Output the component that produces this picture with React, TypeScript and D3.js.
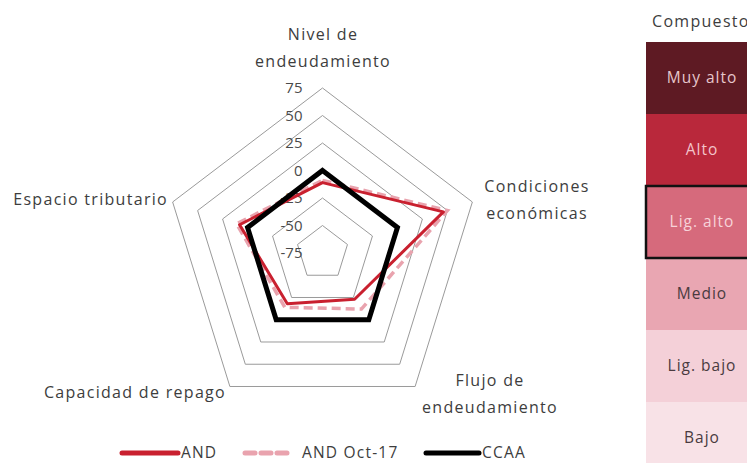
import * as React from "react";
import { scaleLinear, line, curveLinearClosed, range } from "d3";

const axes = [
  ["Nivel de", "endeudamiento"],
  ["Condiciones", "económicas"],
  ["Flujo de", "endeudamiento"],
  ["Capacidad de repago"],
  ["Espacio tributario"],
];
const ticks = [-75, -50, -25, 0, 25, 50, 75];
const andValues = [-11, 46, -23, -18, 8];
const andOct17Values = [-9, 50, -12, -14, 11];
const ccaaValues = [0, 0, 0, 0, 0];
const levels = ["Muy alto", "Alto", "Lig. alto", "Medio", "Lig. bajo", "Bajo"];
const levelColors = ["#5e1a23", "#b9283b", "#d66a7c", "#e9a6b2", "#f4d0d8", "#f8e2e7"];
const levelText = ["#e6c6cb", "#f3c3c9", "#f7d3d9", "#4a3b3f", "#4a3b3f", "#4a3b3f"];
const selectedLevel = "Lig. alto";

const cx = 322.5;
const cy = 253;
const kx = 0.955;
const font = "'Open Sans', Lato, sans-serif";

const rScale = scaleLinear().domain([-75, 75]).range([0, 165]);

const pt = (v: number, i: number): [number, number] => {
  const a = (i * 2 * Math.PI) / 5;
  const r = rScale(v);
  return [cx + r * Math.sin(a) * kx, cy - r * Math.cos(a)];
};

const poly = line<number>()
  .x((d, i) => pt(d, i)[0])
  .y((d, i) => pt(d, i)[1])
  .curve(curveLinearClosed);

const labelPos = [
  { x: 323, y: 40, anchor: "middle" },
  { x: 537, y: 192, anchor: "middle" },
  { x: 490, y: 386, anchor: "middle" },
  { x: 226, y: 398, anchor: "end" },
  { x: 168, y: 205, anchor: "end" },
];

export default function App() {
  const rowY = scaleLinear().domain([0, levels.length]).range([42, 42 + 72 * levels.length]);
  return (
    <svg width={747} height={463} style={{ position: "absolute", left: 0, top: 0, background: "#fff" }}>
      {ticks.slice(1).map((t) => (
        <path key={t} d={poly(range(5).map(() => t)) ?? ""} fill="none" stroke="#9a9a9a" strokeWidth={1} />
      ))}
      {ticks.map((t) => (
        <text key={t} x={cx - 20} y={cy - rScale(t)} dy="0.35em" textAnchor="end"
          fontFamily={font} fontSize={15} fill="#4a4a4a">{t}</text>
      ))}
      <path d={poly(andOct17Values) ?? ""} fill="none" stroke="#e9a3ae" strokeWidth={3.5} strokeDasharray="9,5" />
      <path d={poly(andValues) ?? ""} fill="none" stroke="#c9202f" strokeWidth={3} strokeLinejoin="round" />
      <path d={poly(ccaaValues) ?? ""} fill="none" stroke="#000" strokeWidth={5} />
      {axes.map((lines, i) => (
        <text key={i} fontFamily={font} fontSize={16} fill="#3d3d3d" letterSpacing={1.3}
          textAnchor={labelPos[i].anchor}>
          {lines.map((l, j) => (
            <tspan key={j} x={labelPos[i].x} y={labelPos[i].y + j * 27}>{l}</tspan>
          ))}
        </text>
      ))}
      {/* legend */}
      <g fontFamily={font} fontSize={15.5} fill="#3d3d3d" letterSpacing={1.2}>
        <line x1={122} x2={178} y1={453} y2={453} stroke="#c9202f" strokeWidth={5} strokeLinecap="round" />
        <text x={181} y={458}>AND</text>
        <line x1={245} x2={292} y1={453} y2={453} stroke="#e9a3ae" strokeWidth={5} strokeDasharray="10,6" strokeLinecap="round" />
        <text x={302} y={458}>AND Oct-17</text>
        <line x1={426} x2={479} y1={453} y2={453} stroke="#000" strokeWidth={5} strokeLinecap="round" />
        <text x={482} y={458}>CCAA</text>
      </g>
      {/* composite scale */}
      <text x={652} y={27} fontFamily={font} fontSize={16} fill="#3d3d3d" letterSpacing={1.3}>Compuesto</text>
      {levels.map((l, i) => (
        <g key={l}>
          <rect x={646} y={rowY(i)} width={110} height={72} fill={levelColors[i]} />
          <text x={702} y={rowY(i) + 36} dy="0.35em" textAnchor="middle" fontFamily={font}
            fontSize={15.5} fill={levelText[i]} letterSpacing={1}>{l}</text>
        </g>
      ))}
      {levels.map((l, i) =>
        l === selectedLevel ? (
          <rect key={l} x={646} y={rowY(i)} width={110} height={72} fill="none" stroke="#111" strokeWidth={2.5} />
        ) : null
      )}
    </svg>
  );
}
